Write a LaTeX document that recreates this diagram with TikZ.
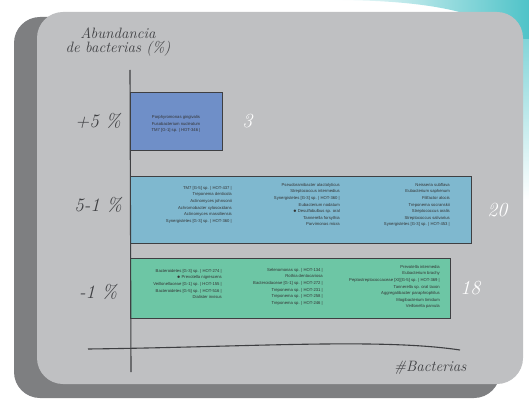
\documentclass[tikz,border=0pt]{standalone}
\usepackage{fontspec}
\setsansfont{Liberation Sans}
\usetikzlibrary{positioning}
\definecolor{panelgray}{HTML}{BFC0C2}
\definecolor{shadowgray}{HTML}{7E7F81}
\definecolor{barblue}{HTML}{6F8FC8}
\definecolor{barsky}{HTML}{7FB8CF}
\definecolor{barmint}{HTML}{6DC6A5}
\definecolor{tealfade}{HTML}{4FC3C8}
\definecolor{inkgray}{HTML}{3E3F42}
\tikzset{
  bar/.style={draw=inkgray, line width=0.9pt, anchor=north west, inner sep=0pt},
  species/.style={font=\sffamily\fontsize{4.2}{6.6}\selectfont, text=black!80, align=right, inner sep=0pt},
  hand/.style={font=\itshape\fontsize{15}{16}\selectfont, text=inkgray},
  count/.style={font=\itshape\fontsize{20}{20}\selectfont, text=white},
  axis/.style={draw=inkgray, line width=1.1pt},
}
\begin{document}
\begin{tikzpicture}[x=1pt, y=-1pt]
  \useasboundingbox (0,0) rectangle (529,406);
  \shade[left color=white, right color=tealfade] (330,0) .. controls (440,0) and (510,15) .. (529,60) -- (529,0) -- cycle;
  \shade[top color=tealfade!70, bottom color=white] (515,40) -- (529,40) -- (529,200) -- (515,200) -- cycle;
  \fill[shadowgray, rounded corners=26pt] (14,17) rectangle (500,398);
  \fill[panelgray, rounded corners=26pt] (37,12) rectangle (523,384);

  % bars
  \node[bar, fill=barblue, minimum width=92pt, minimum height=58pt] (topBar) at (130,92) {};
  \node[bar, fill=barsky, minimum width=341pt, minimum height=67pt] (midBar) at (130,176) {};
  \node[bar, fill=barmint, minimum width=320pt, minimum height=60pt] (lowBar) at (130,258) {};

  % axes
  \draw[axis] (130,70) -- (131,372);
  \draw[axis] (88,349) .. controls (250,347) and (380,338) .. (460,350);

  % axis labels
  \node[hand, align=center] (yTitle) at (118,42) {Abundancia\\[-2pt]de bacterias (\%)};
  \node[hand, anchor=east] (xTitle) at (470,368) {\#Bacterias};
  \node[hand, font=\itshape\fontsize{19}{19}\selectfont] (highLbl) at (98,121) {+5 \%};
  \node[hand, font=\itshape\fontsize{19}{19}\selectfont] (midLbl) at (98,205) {5-1 \%};
  \node[hand, font=\itshape\fontsize{19}{19}\selectfont] (lowLbl) at (98,292) {-1 \%};

  % counts
  \node[count, right=16pt of topBar.east] (topCount) {3};
  \node[count, right=12pt of midBar.east] (midCount) {20};
  \node[count, right=6pt of lowBar.east] (lowCount) {18};

  % species
  \node[species, align=center] (topList) at (176,124) {Porphyromonas gingivalis\\Fusobacterium nucleatum\\TM7 [G-1] sp. | HOT-346 |};

  \node[species, anchor=north east] (midListA) at (232,186) {TM7 [G-5] sp. | HOT-437 |\\Treponema denticola\\Actinomyces johnsonii\\Achromobacter xylosoxidans\\Actinomyces massiliensis\\Synergistetes [G-3] sp. | HOT-360 |};
  \node[species, anchor=north east] (midListB) at (340,183) {Pseudoramibacter alactolyticus\\Streptococcus intermedius\\Synergistetes [G-3] sp. | HOT-360 |\\Eubacterium nodatum\\$\bullet$ Desulfobulbus sp. oral\\Tannerella forsythia\\Parvimonas micra};
  \node[species, anchor=north east] (midListC) at (450,183) {Neisseria subflava\\Eubacterium saphenum\\Filifactor alocis\\Treponema socranskii\\Streptococcus oralis\\Streptococcus salivarius\\Synergistetes [G-3] sp. | HOT-453 |};

  \node[species, anchor=north east] (lowListA) at (222,269) {Bacteroidetes [G-3] sp. | HOT-274 |\\$\bullet$ Prevotella nigrescens\\Veillonellaceae [G-1] sp. | HOT-155 |\\Bacteroidetes [G-5] sp. | HOT-516 |\\Dialister invisus};
  \node[species, anchor=north east] (lowListB) at (323,268) {Selenomonas sp. | HOT-134 |\\Rothia dentocariosa\\Bacteroidaceae [G-1] sp. | HOT-272 |\\Treponema sp. | HOT-231 |\\Treponema sp. | HOT-258 |\\Treponema sp. | HOT-246 |};
  \node[species, anchor=north east] (lowListC) at (440,265) {Prevotella intermedia\\Eubacterium brachy\\Peptostreptococcaceae [XI][G-5] sp. | HOT-369 |\\Tannerella sp. oral taxon\\Aggregatibacter paraphrophilus\\Mogibacterium timidum\\Veillonella parvula};
\end{tikzpicture}
\end{document}
